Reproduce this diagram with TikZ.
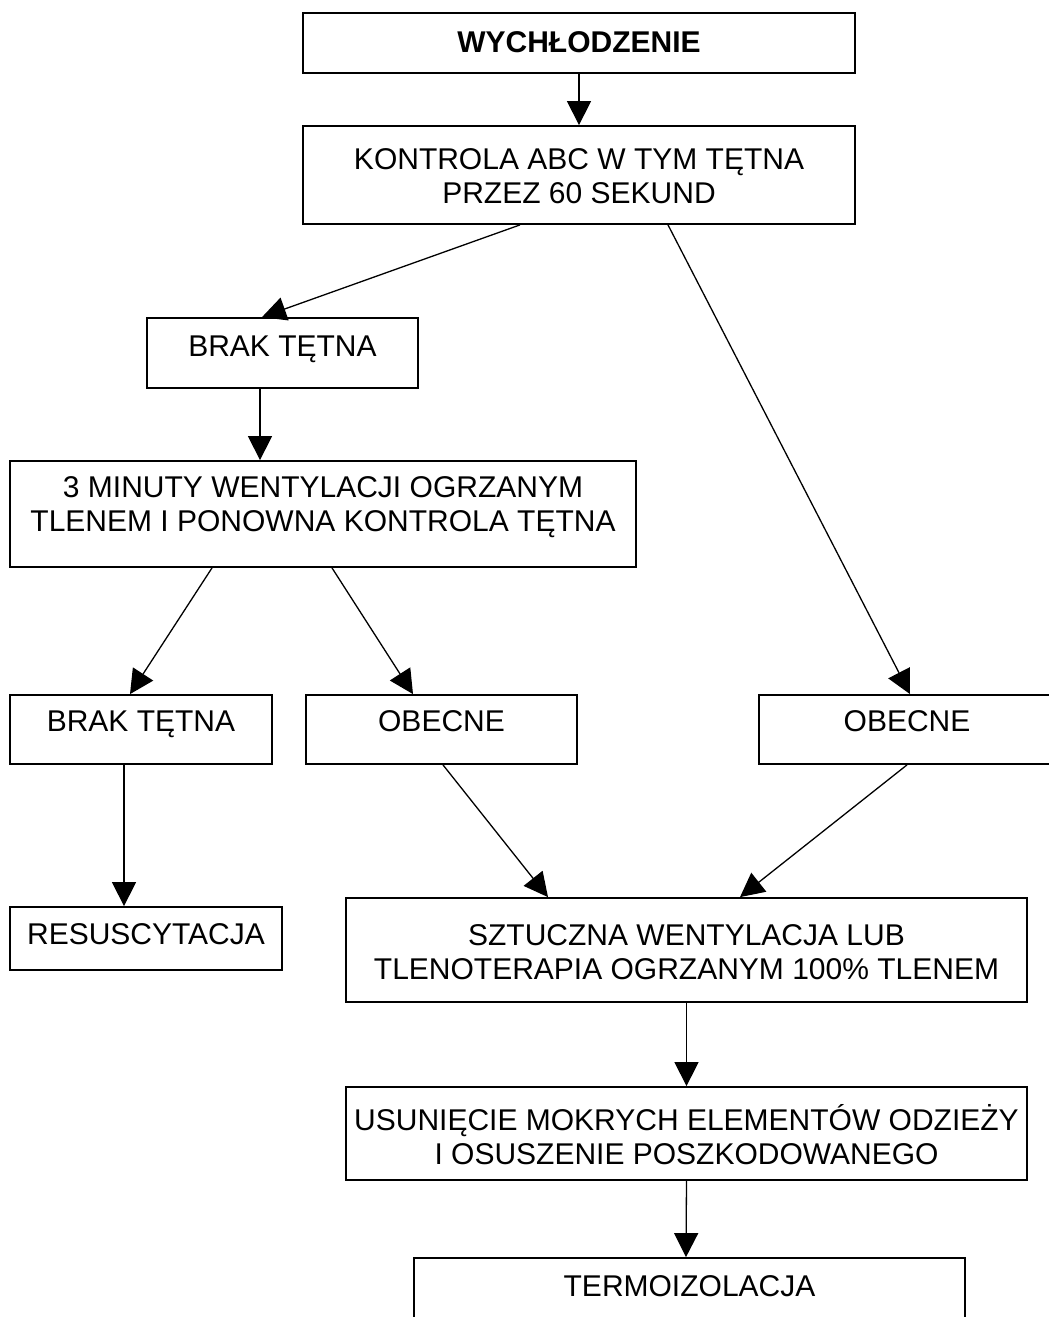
\documentclass[tikz,border=0pt]{standalone}
\usepackage{fontspec}
\setmainfont{Liberation Sans}
\usetikzlibrary{arrows.meta}
\begin{document}
\begin{tikzpicture}[x=0.5pt,y=-0.5pt,
  box/.style={draw,line width=0.9pt,rectangle,inner sep=0pt},
  txt/.style={inner sep=0pt,align=center,font=\fontsize{15pt}{17pt}\selectfont},
  conn/.style={line width=0.65pt,-{Triangle[length=12pt,width=12pt]}}]
\useasboundingbox (0,0) rectangle (1049,1317);
\clip (0,0) rectangle (1049,1317);
% boxes
\node[box,minimum width=276pt,minimum height=30pt] (w) at (579,43) {};
\node[box,minimum width=276pt,minimum height=49pt] (k) at (579,175) {};
\node[box,minimum width=135.5pt,minimum height=35pt] (b1) at (282.5,353) {};
\node[box,minimum width=313pt,minimum height=53pt] (m) at (323,514) {};
\node[box,minimum width=131pt,minimum height=34.5pt] (b2) at (141,729.5) {};
\node[box,minimum width=135.5pt,minimum height=34.5pt] (o1) at (441.5,729.5) {};
\node[box,minimum width=150pt,minimum height=34.5pt] (o2) at (909,729.5) {};
\node[box,minimum width=136pt,minimum height=31.5pt] (r) at (146,938.5) {};
\node[box,minimum width=340.5pt,minimum height=52pt] (s) at (686.5,950) {};
\node[box,minimum width=340.5pt,minimum height=46.5pt] (u) at (686.5,1133.5) {};
\node[box,minimum width=275.5pt,minimum height=41pt] (t) at (689.5,1299) {};
% texts
\node[txt,font=\fontsize{15pt}{17pt}\selectfont\bfseries] (tw) at (579,42) {WYCHŁODZENIE};
\node[txt] (tk) at (579,176) {KONTROLA ABC W TYM TĘTNA\\PRZEZ 60 SEKUND};
\node[txt] (tb1) at (282.5,349) {BRAK TĘTNA};
\node[txt] (tm) at (323,507) {3 MINUTY WENTYLACJI OGRZANYM\\TLENEM I PONOWNA KONTROLA TĘTNA};
\node[txt] (tb2) at (141,724.5) {BRAK TĘTNA};
\node[txt] (to1) at (441.5,721) {OBECNE};
\node[txt] (to2) at (907,721) {OBECNE};
\node[txt] (tr) at (146,934) {RESUSCYTACJA};
\node[txt] (ts) at (686.5,952) {SZTUCZNA WENTYLACJA LUB\\TLENOTERAPIA OGRZANYM 100\% TLENEM};
\node[txt] (tu) at (686.5,1135) {USUNIĘCIE MOKRYCH ELEMENTÓW ODZIEŻY\\I OSUSZENIE POSZKODOWANEGO};
\node[txt] (tt) at (689.5,1286) {TERMOIZOLACJA};
% connectors
\draw[conn] (w.south) -- (k.north);
\draw[conn] ([xshift=-29.5pt]k.south) -- ([xshift=-10.25pt]b1.north);
\draw[conn] ([xshift=44.5pt]k.south) -- ([xshift=0.5pt]o2.north);
\draw[conn] ([xshift=-11.25pt]b1.south) -- ([xshift=-31.5pt]m.north);
\draw[conn] ([xshift=-55.5pt]m.south) -- ([xshift=-5.5pt]b2.north);
\draw[conn] ([xshift=4.5pt]m.south) -- ([xshift=-14.25pt]o1.north);
\draw[conn] ([xshift=-8.5pt]b2.south) -- ([xshift=-11pt]r.north);
\draw[conn] ([xshift=0.75pt]o1.south) -- ([xshift=-69.25pt]s.north);
\draw[conn] ([xshift=-1pt]o2.south) -- ([xshift=26.75pt]s.north);
\draw[conn] (s.south) -- (u.north);
\draw[conn] (u.south) -- ([xshift=-1.75pt]t.north);
\end{tikzpicture}
\end{document}
